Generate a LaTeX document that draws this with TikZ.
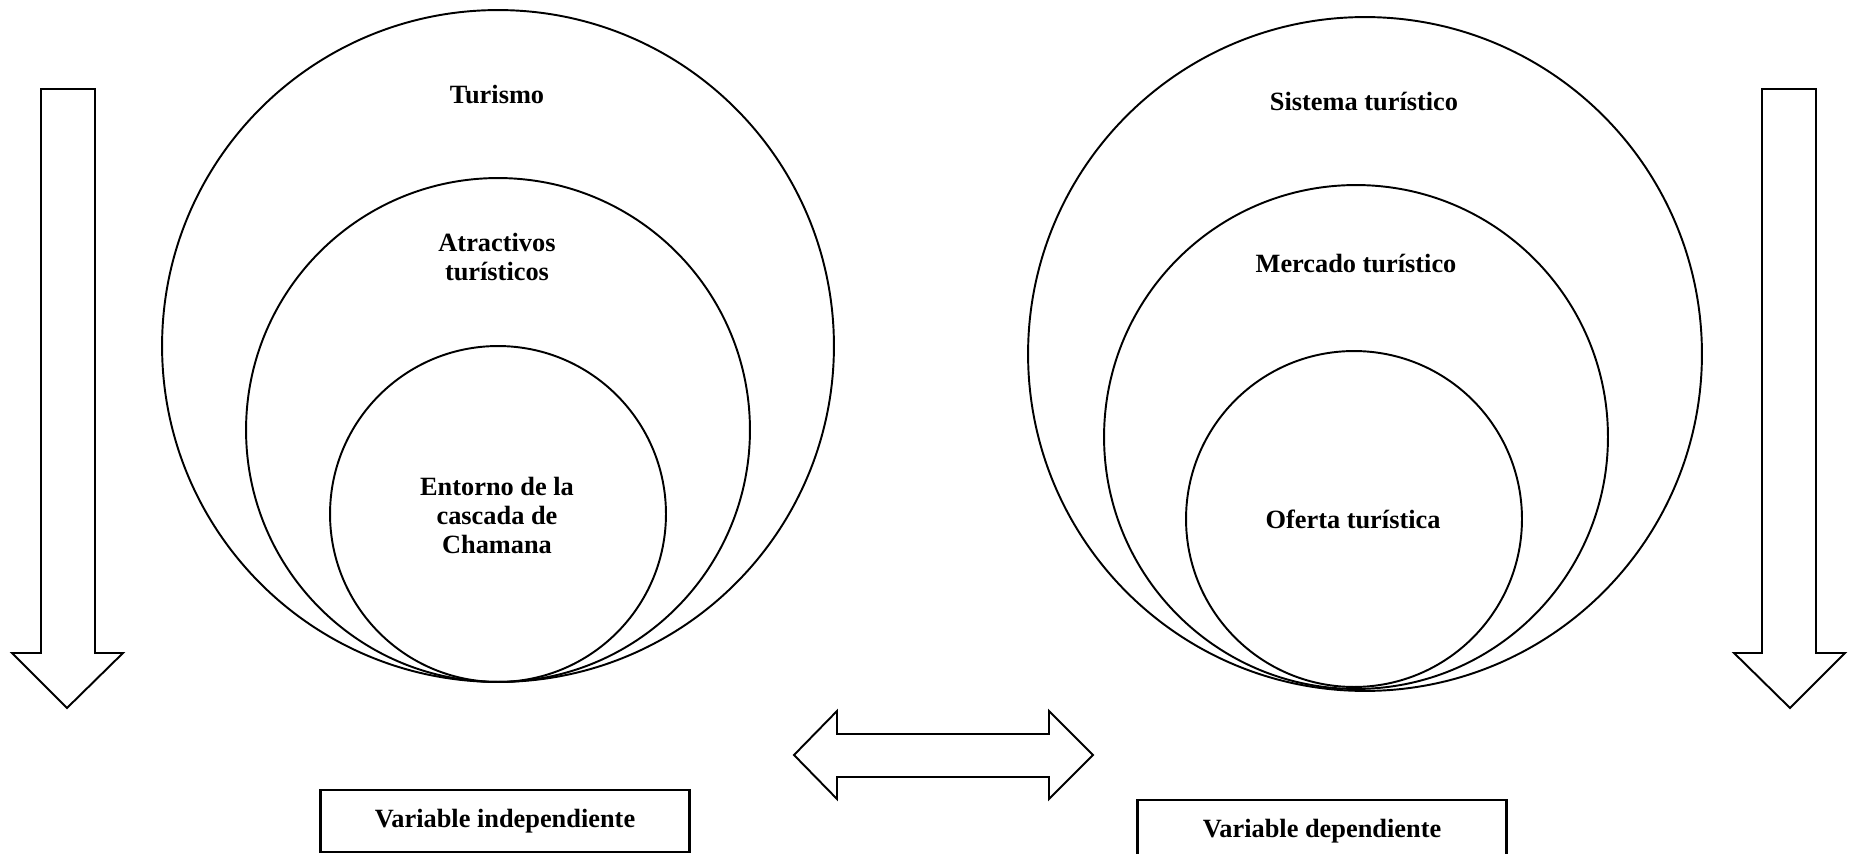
\documentclass[tikz,border=0pt]{standalone}
\usepackage{fontspec}
\setmainfont{Liberation Serif}
\usepackage{tikz}

\begin{document}
\begin{tikzpicture}[x=0.02cm, y=-0.02cm, line width=1.1pt,
    font=\fontsize{15}{16.5}\selectfont\bfseries,
    ring/.style={circle, draw, inner sep=0pt},
    txt/.style={align=center, inner sep=1pt},
    varbox/.style={rectangle, draw, line width=1.4pt, minimum width=7.38cm, minimum height=1.24cm}]
    \clip (0,0) rectangle (1855,854);

    % Variable independiente
    \node(101) at (498,346) [ring, minimum size=13.44cm] {};
    \node(102) at (498,430) [ring, minimum size=10.08cm] {};
    \node(103) at (498,514) [ring, minimum size=6.72cm] {};
    \node(111) at (497,95) [txt] {Turismo};
    \node(112) at (497,257) [txt] {Atractivos\\turísticos};
    \node(113) at (497,515) [txt] {Entorno de la\\cascada de\\Chamana};
    \node(121) at (505,821) [varbox] {Variable independiente};
    \draw (41,89) -- (95,89) -- (95,653) -- (123,653) -- (67,708) -- (12,653) -- (41,653) -- cycle;

    % Variable dependiente
    \node(201) at (1365,354) [ring, minimum size=13.48cm] {};
    \node(202) at (1356,437) [ring, minimum size=10.08cm] {};
    \node(203) at (1354,519) [ring, minimum size=6.72cm] {};
    \node(211) at (1364,102) [txt] {Sistema turístico};
    \node(212) at (1356,264) [txt] {Mercado turístico};
    \node(213) at (1353,519) [txt] {Oferta turística};
    \node(221) at (1322,831) [varbox] {Variable dependiente};
    \draw (1762,89) -- (1816,89) -- (1816,653) -- (1845,653) -- (1790,708) -- (1734,653) -- (1762,653) -- cycle;

    % Relacion
    \draw (794,755) -- (837,711) -- (837,734) -- (1049,734) -- (1049,711) -- (1093,755)
        -- (1049,799) -- (1049,777) -- (837,777) -- (837,799) -- cycle;

\end{tikzpicture}
\end{document}
